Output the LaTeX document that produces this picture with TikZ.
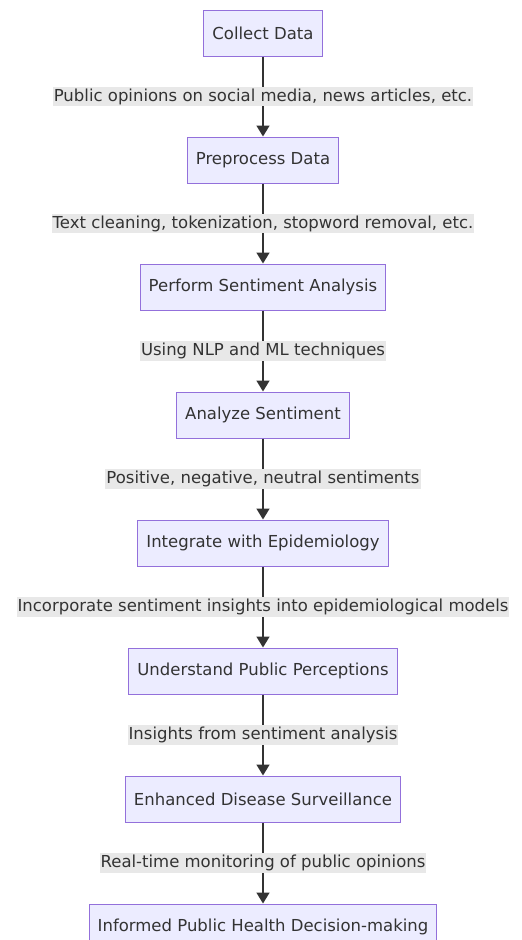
\documentclass[tikz,border=0pt]{standalone}
\usepackage{fontspec}
\setmainfont{DejaVu Sans}
\usetikzlibrary{arrows.meta}
\definecolor{boxfill}{HTML}{ECECFF}
\definecolor{boxline}{HTML}{9370DB}
\definecolor{ink}{HTML}{333333}
\definecolor{labelbg}{HTML}{E8E8E8}
\begin{document}
\begin{tikzpicture}[x=1pt,y=-1pt,
    step box/.style={draw=boxline,line width=1pt,fill=boxfill,text=ink,minimum height=46pt,inner xsep=8.5pt,font=\fontsize{16.5}{19}\selectfont},
    flow/.style={draw=ink,line width=1.6pt,-{Triangle[length=11pt,width=13pt]}},
    edge label/.style={fill=labelbg,text=ink,inner xsep=1pt,inner ysep=2pt,font=\fontsize{16.5}{19}\selectfont}]
  \useasboundingbox (0,0) rectangle (522,940);
  \node[step box] (collect) at (263,33) {Collect Data};
  \node[step box] (preprocess) at (263,160) {Preprocess Data};
  \node[step box] (perform) at (263,287) {Perform Sentiment Analysis};
  \node[step box] (analyze) at (263,415) {Analyze Sentiment};
  \node[step box] (integrate) at (263,543) {Integrate with Epidemiology};
  \node[step box] (understand) at (263,671) {Understand Public Perceptions};
  \node[step box] (enhanced) at (263,799) {Enhanced Disease Surveillance};
  \node[step box] (informed) at (263,927) {Informed Public Health Decision-making};

  \draw[flow] (collect) -- node[edge label] {Public opinions on social media, news articles, etc.} (preprocess);
  \draw[flow] (preprocess) -- node[edge label] {Text cleaning, tokenization, stopword removal, etc.} (perform);
  \draw[flow] (perform) -- node[edge label] {Using NLP and ML techniques} (analyze);
  \draw[flow] (analyze) -- node[edge label] {Positive, negative, neutral sentiments} (integrate);
  \draw[flow] (integrate) -- node[edge label] {Incorporate sentiment insights into epidemiological models} (understand);
  \draw[flow] (understand) -- node[edge label] {Insights from sentiment analysis} (enhanced);
  \draw[flow] (enhanced) -- node[edge label] {Real-time monitoring of public opinions} (informed);
\end{tikzpicture}
\end{document}
